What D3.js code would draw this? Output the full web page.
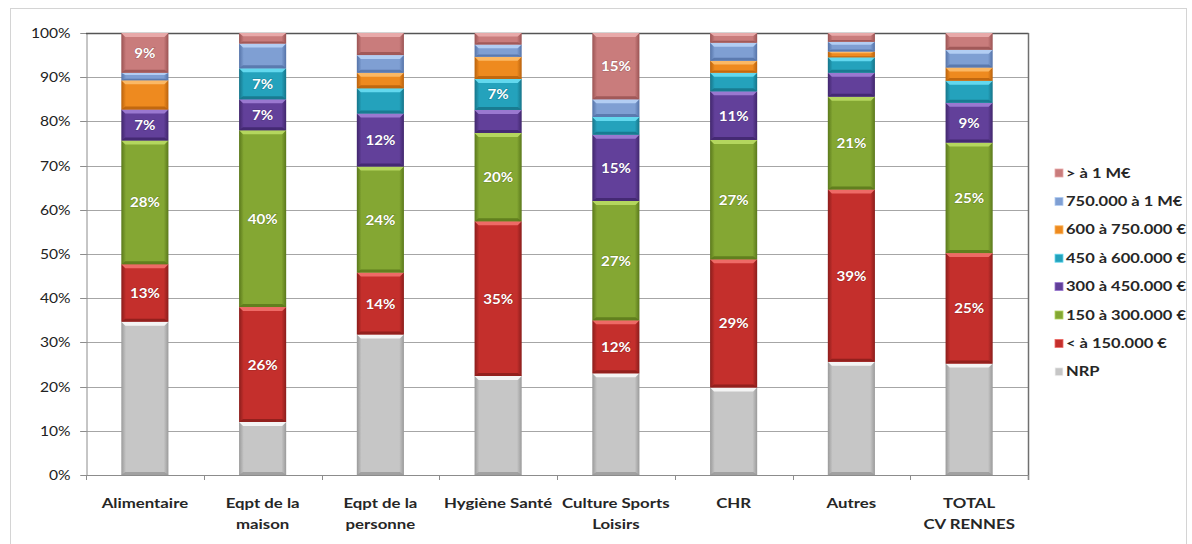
<!DOCTYPE html>
<html>
<head>
<meta charset="utf-8">
<script src="https://cdn.jsdelivr.net/npm/d3@7"></script>
<style>
  html, body { margin: 0; padding: 0; background: #ffffff; }
  svg { display: block; font-family: Lato, "Open Sans", sans-serif; }
</style>
</head>
<body>
<svg id="chart" width="1192" height="544"></svg>
<script>
// Categories (x axis), each label split into its display lines
const categories = ["Alimentaire", "Eqpt de la maison", "Eqpt de la personne", "Hygiène Santé",
                    "Culture Sports Loisirs", "CHR", "Autres", "TOTAL CV RENNES"];
const categoryLines = [["Alimentaire"], ["Eqpt de la", "maison"], ["Eqpt de la", "personne"],
                       ["Hygiène Santé"], ["Culture Sports", "Loisirs"], ["CHR"], ["Autres"],
                       ["TOTAL", "CV RENNES"]];

// Series, stacked bottom to top (share of turnover bracket, %)
const seriesNames = ["NRP", "< à 150.000 €", "150 à 300.000 €", "300 à 450.000 €",
                     "450 à 600.000 €", "600 à 750.000 €", "750.000 à 1 M€", "> à 1 M€"];
const nrp      = [34.7, 12,   31.8, 22.4, 23, 19.8, 25.6, 25.2];
const lt150    = [13,   26,   14,   35,   12, 29,   39,   25];
const s150_300 = [28,   40,   24,   20,   27, 27,   21,   25];
const s300_450 = [7,    7,    12,   5.2,  15, 11,   5.4,  9];
const s450_600 = [0,    7,    5.7,  7,    4,  4.2,  3.5,  5];
const s600_750 = [6.6,  0,    3.5,  5,    0,  2.7,  1.3,  3];
const s750_1m  = [1.7,  5.6,  4,    2.8,  4,  4.1,  2.2,  4];
const gt1m     = [9,    2.4,  5,    2.6,  15, 2.2,  2,    3.8];
const seriesValues = [nrp, lt150, s150_300, s300_450, s450_600, s600_750, s750_1m, gt1m];

const yTicks = [0, 10, 20, 30, 40, 50, 60, 70, 80, 90, 100];

// Fill colours: base, light (top bevel), dark (edges)
const palette = [
  { base: "#c6c6c6", light: "#f4f4f4", dark: "#9a9a9a" },
  { base: "#c42f2c", light: "#ee6a66", dark: "#8a1d1b" },
  { base: "#84a733", light: "#b4d65e", dark: "#5a781b" },
  { base: "#62409a", light: "#9a78d0", dark: "#40266c" },
  { base: "#24a2bc", light: "#62d8ee", dark: "#167489" },
  { base: "#ee8a1f", light: "#fbb864", dark: "#b9620d" },
  { base: "#7f9fd3", light: "#b2cdf3", dark: "#5573a8" },
  { base: "#c97c7c", light: "#e8a9a9", dark: "#9a5353" }
];

// Text in this chart is set slightly wide
const WIDE = 1.2;

const rows = categories.map((c, i) => {
  const r = { category: c };
  seriesNames.forEach((s, k) => { r[s] = seriesValues[k][i]; });
  return r;
});

const svg = d3.select("#chart");
const margin = { left: 86, right: 1028, top: 33, bottom: 475 };

// Outer chart frame
svg.append("rect")
  .attr("x", 10.5).attr("y", 8.5).attr("width", 1176).attr("height", 560)
  .attr("fill", "none").attr("stroke", "#d4d4d4");

const x = d3.scaleBand().domain(categories)
  .range([margin.left, margin.right]).paddingInner(0.6).paddingOuter(0.3);
const y = d3.scaleLinear().domain([0, 100]).range([margin.bottom, margin.top]);

// Gradients (darker left/right edges)
const defs = svg.append("defs");
palette.forEach((p, k) => {
  const g = defs.append("linearGradient").attr("id", "grad" + k)
    .attr("x1", "0").attr("x2", "1").attr("y1", "0").attr("y2", "0");
  g.append("stop").attr("offset", "0").attr("stop-color", p.dark);
  g.append("stop").attr("offset", "0.1").attr("stop-color", p.base);
  g.append("stop").attr("offset", "0.9").attr("stop-color", p.base);
  g.append("stop").attr("offset", "1").attr("stop-color", p.dark);
});

// Gridlines
svg.append("g").selectAll("line").data(yTicks.filter(t => t > 0 && t < 100)).join("line")
  .attr("x1", margin.left - 6).attr("x2", margin.right)
  .attr("y1", d => Math.round(y(d)) + 0.5).attr("y2", d => Math.round(y(d)) + 0.5)
  .attr("stroke", "#a6a6a6").attr("stroke-width", 1);

// Y axis
const yAxis = svg.append("g").attr("transform", `translate(${margin.left + 0.5},0)`)
  .call(d3.axisLeft(y).tickValues(yTicks).tickFormat(d => d + "%").tickSize(6).tickPadding(10));
yAxis.select(".domain").attr("stroke", "#8c8c8c");
yAxis.selectAll(".tick line").attr("stroke", "#8c8c8c");
yAxis.selectAll(".tick").attr("transform", d => `translate(0,${Math.round(y(d)) + 0.5})`);
yAxis.selectAll(".tick text")
  .attr("font-size", 13).attr("fill", "#222").attr("font-family", "Lato, sans-serif")
  .attr("x", -16 / WIDE).attr("transform", `scale(${WIDE},1)`);

// Plot frame: top and right edges
svg.append("line").attr("x1", margin.left).attr("x2", margin.right + 0.5)
  .attr("y1", margin.top + 0.5).attr("y2", margin.top + 0.5).attr("stroke", "#555").attr("stroke-width", 1.5);
svg.append("line").attr("x1", margin.right + 0.5).attr("x2", margin.right + 0.5)
  .attr("y1", margin.top).attr("y2", margin.bottom + 5).attr("stroke", "#707070").attr("stroke-width", 1.5);

// Stacked segments
const stack = d3.stack().keys(seriesNames)(rows);
const layers = svg.append("g").selectAll("g").data(stack).join("g");
layers.each(function(layer, k) {
  const g = d3.select(this);
  const p = palette[k];
  layer.forEach((d, i) => {
    const v = d[1] - d[0];
    if (v <= 0) return;
    const x0 = x(categories[i]);
    const w = x.bandwidth();
    const yTop = y(d[1]);
    const yBot = y(d[0]);
    const h = yBot - yTop;
    const seg = g.append("g");
    seg.append("rect").attr("x", x0).attr("y", yTop).attr("width", w).attr("height", h)
      .attr("fill", `url(#grad${k})`);
    const bt = Math.min(4, h * 0.3);
    const bb = Math.min(3, h * 0.2);
    const inset = 4;
    // top bevel highlight
    seg.append("path")
      .attr("d", `M${x0},${yTop} L${x0 + w},${yTop} L${x0 + w - inset},${yTop + bt} L${x0 + inset},${yTop + bt} Z`)
      .attr("fill", p.light);
    // bottom bevel shade
    seg.append("path")
      .attr("d", `M${x0},${yBot} L${x0 + w},${yBot} L${x0 + w - inset},${yBot - bb} L${x0 + inset},${yBot - bb} Z`)
      .attr("fill", p.dark).attr("opacity", 0.85);
    // value label
    if (k > 0 && v >= 7) {
      g.append("text")
        .attr("transform", `translate(${x0 + w / 2},${(yTop + yBot) / 2}) scale(1.08,1)`)
        .attr("dy", "0.36em").attr("text-anchor", "middle")
        .attr("font-size", 14).attr("font-weight", 700).attr("fill", "#ffffff")
        .attr("font-family", "Lato, sans-serif")
        .style("paint-order", "stroke").attr("stroke", "rgba(0,0,0,0.18)").attr("stroke-width", 1.2)
        .text(Math.round(v) + "%");
    }
  });
});

// X axis baseline and ticks at category boundaries
svg.append("line").attr("x1", margin.left).attr("x2", margin.right + 0.5)
  .attr("y1", margin.bottom + 0.5).attr("y2", margin.bottom + 0.5).attr("stroke", "#8c8c8c");
const step = x.step();
const boundaries = d3.range(categories.length + 1).map(i => margin.left + i * step);
svg.append("g").selectAll("line").data(boundaries).join("line")
  .attr("x1", d => Math.round(d) + 0.5).attr("x2", d => Math.round(d) + 0.5)
  .attr("y1", margin.bottom).attr("y2", margin.bottom + 5).attr("stroke", "#8c8c8c");

// Category labels
const catG = svg.append("g");
categories.forEach((c, i) => {
  const t = catG.append("text")
    .attr("transform", `translate(${x(c) + x.bandwidth() / 2},508) scale(${WIDE},1)`)
    .attr("text-anchor", "middle").attr("font-size", 14).attr("font-weight", 700)
    .attr("fill", "#262626").attr("font-family", "Lato, sans-serif");
  categoryLines[i].forEach((line, j) => {
    t.append("tspan").attr("x", 0).attr("dy", j === 0 ? 0 : 21).text(line);
  });
});

// Legend, top entry first
const legendOrder = seriesNames.map((s, k) => ({ s, k })).reverse();
const legend = svg.append("g");
legendOrder.forEach((e, j) => {
  const yy = 173 + j * 28.4;
  const p = palette[e.k];
  legend.append("rect").attr("x", 1055).attr("y", yy - 4).attr("width", 8).attr("height", 8)
    .attr("fill", p.base).attr("stroke", p.light).attr("stroke-width", 0.8);
  legend.append("text")
    .attr("transform", `translate(1066,${yy}) scale(1.27,1)`)
    .attr("dy", "0.36em")
    .attr("font-size", 13).attr("font-weight", 700).attr("fill", "#262626")
    .attr("font-family", "Lato, sans-serif")
    .text(e.s);
});
</script>
</body>
</html>
